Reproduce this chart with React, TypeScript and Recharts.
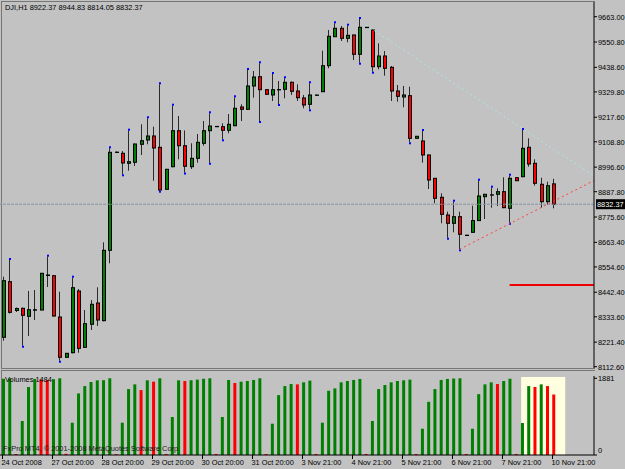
import { Bar, Cell, ComposedChart, ReferenceArea, ReferenceLine, XAxis, YAxis } from "recharts";

// DJI H1, 24 Oct - 10 Nov 2008
const opens = [
  8242.8, 8489.1, 8361.5, 8371.2, 8335.8, 8363.0, 8363.7, 8516.5, 8515.6, 8332.7,
  8154.2, 8174.5, 8447.9, 8198.4, 8300.4, 8394.7, 8316.3, 8628.2, 9063.0, 9057.9,
  9013.6, 9018.0, 9097.7, 9116.8, 9134.5, 9084.5, 8898.4, 8998.5, 9158.0, 9091.5,
  8998.5, 9035.7, 9102.2, 9158.0, 9176.0, 9175.7, 9159.8, 9180.1, 9263.0, 9252.8,
  9356.0, 9397.2, 9339.6, 9316.2, 9339.0, 9341.4, 9372.4, 9333.9, 9302.9, 9274.9,
  9315.0, 9330.8, 9446.0, 9574.4, 9611.6, 9567.3, 9582.0, 9496.5, 9615.0, 9604.1,
  9441.5, 9488.9, 9438.9, 9333.9, 9307.3, 9313.1, 9124.3, 9112.4, 9050.4, 8947.1,
  8863.0, 8784.6, 8747.8, 8777.0, 8694.0, 8707.9, 8759.7, 8865.6, 8873.0, 8876.3,
  8887.8, 8814.2, 8949.8, 8954.2, 9084.5, 9013.6, 8920.6, 8843.5, 8922.37,
];
const highs = [
  8511.2, 8585.2, 8374.8, 8374.8, 8447.9, 8452.3, 8528.0, 8599.8, 8519.0, 8444.8,
  8173.0, 8506.8, 8456.7, 8363.7, 8408.0, 8464.3, 8663.6, 9080.0, 9066.0, 9068.1,
  9158.0, 9101.0, 9186.4, 9212.9, 9175.7, 9363.6, 8989.0, 9268.7, 9223.1, 9159.3,
  9102.2, 9143.4, 9201.0, 9235.1, 9178.0, 9190.8, 9232.0, 9306.0, 9275.0, 9426.9,
  9422.5, 9456.6, 9342.0, 9409.2, 9378.2, 9390.1, 9376.0, 9363.5, 9316.2, 9368.0,
  9318.0, 9512.4, 9604.1, 9633.8, 9621.8, 9623.1, 9584.0, 9652.8, 9618.0, 9606.0,
  9545.2, 9511.1, 9444.6, 9360.4, 9356.0, 9352.9, 9135.0, 9156.7, 9052.0, 8948.5,
  8880.7, 8799.2, 8843.5, 8799.2, 8697.0, 8825.7, 8936.5, 8878.0, 8905.5, 8902.8,
  8951.6, 8958.6, 8951.0, 9161.1, 9124.3, 9031.3, 8949.8, 8932.1, 8944.83,
];
const lows = [
  8227.7, 8348.2, 8354.8, 8205.5, 8248.5, 8319.4, 8362.0, 8465.6, 8334.0, 8139.1,
  8152.0, 8172.0, 8174.5, 8196.0, 8275.1, 8292.8, 8314.0, 8570.6, 9059.0, 8964.9,
  8980.8, 9001.6, 9050.4, 9097.7, 8936.5, 8892.2, 8896.0, 8996.0, 9031.3, 8972.8,
  8988.3, 9016.2, 9091.5, 9016.2, 9174.0, 9119.9, 9146.5, 9178.0, 9201.0, 9250.0,
  9304.2, 9201.0, 9316.0, 9289.6, 9276.3, 9301.5, 9316.2, 9289.6, 9257.2, 9252.8,
  9313.0, 9329.0, 9434.4, 9573.0, 9555.4, 9549.6, 9471.2, 9459.2, 9613.0, 9419.4,
  9430.0, 9401.7, 9289.6, 9286.5, 9261.7, 9106.6, 9122.0, 9016.2, 8899.7, 8836.4,
  8747.8, 8684.0, 8707.9, 8632.6, 8692.0, 8706.0, 8758.0, 8766.8, 8816.9, 8824.4,
  8815.0, 8750.4, 8935.0, 8952.0, 8998.5, 8914.4, 8816.9, 8828.8, 8814.05,
];
const closes = [
  8493.5, 8353.5, 8370.4, 8340.2, 8365.0, 8365.0, 8526.3, 8518.8, 8337.1, 8154.2,
  8171.9, 8462.5, 8194.0, 8303.1, 8389.0, 8319.4, 8628.2, 9062.3, 9062.0, 9014.9,
  9020.7, 9099.1, 9113.7, 9134.5, 9081.4, 8895.3, 8987.0, 9158.0, 9091.5, 9000.4,
  9035.7, 9106.6, 9158.0, 9178.8, 9177.0, 9159.8, 9186.4, 9257.2, 9252.8, 9356.0,
  9395.9, 9339.6, 9319.3, 9339.6, 9340.0, 9372.4, 9332.5, 9304.2, 9271.9, 9316.2,
  9316.0, 9446.0, 9576.2, 9611.6, 9567.3, 9580.6, 9496.5, 9616.1, 9616.0, 9441.5,
  9488.9, 9434.4, 9333.9, 9310.4, 9316.2, 9124.3, 9133.2, 9050.4, 8939.6, 8858.5,
  8787.6, 8747.8, 8777.0, 8699.1, 8695.0, 8759.7, 8868.7, 8876.3, 8874.0, 8887.8,
  8816.9, 8947.1, 8936.5, 9080.0, 9010.5, 8925.0, 8843.5, 8914.4, 8832.37,
];
const volumes = [
  1870, 1878, 25, 833, 1667, 1865, 1850, 1840, 1860, 1881,
  30, 792, 1510, 1690, 1790, 1830, 1835, 1881, 20, 792,
  1617, 1732, 1592, 1832, 1798, 1881, 25, 932, 1831, 1815,
  1833, 1848, 1870, 1881, 25, 932, 1840, 1765, 1798, 1815,
  1840, 1881, 25, 767, 1468, 1690, 1740, 1732, 1782, 1823,
  25, 792, 1575, 1633, 1782, 1815, 1840, 1865, 25, 833,
  1617, 1716, 1782, 1815, 1832, 1848, 25, 644, 1304, 1617,
  1840, 1865, 1875, 1881, 25, 644, 1493, 1732, 1782, 1740,
  1815, 1870, 25, 784, 1690, 1667, 1732, 1690, 1484,
];
const fractalUp = [1, 7, 11, 17, 20, 23, 25, 27, 33, 37, 39, 41, 43, 45, 49, 53, 55, 57, 67, 72, 76, 78, 81, 83];
const fractalDown = [3, 9, 19, 25, 29, 33, 35, 41, 44, 49, 57, 59, 65, 71, 73, 81];

const dateLabels = [
  "24 Oct 2008", "27 Oct 20:00", "28 Oct 20:00", "29 Oct 20:00", "30 Oct 20:00", "31 Oct 20:00",
  "3 Nov 21:00", "4 Nov 21:00", "5 Nov 21:00", "6 Nov 21:00", "7 Nov 21:00", "10 Nov 21:00",
];
const priceTicks = [
  9663.0, 9550.8, 9438.6, 9329.8, 9217.6, 9108.8, 8996.6, 8887.8,
  8775.6, 8663.4, 8554.6, 8442.4, 8333.6, 8221.4, 8112.6,
];
const volumeTicks = [0, 1881];
const lastPrice = 8832.37;

// drawn objects: downtrend line, uptrend line, horizontal level, highlight box
const resistance = [{ x: 58, y: 9626 }, { x: 94.5, y: 8958 }];
const support = [{ x: 73, y: 8632.6 }, { x: 94.5, y: 8937 }];
const level = [{ x: 81, y: 8474.5 }, { x: 94.5, y: 8474.5 }];
const highlight = { x1: 82.85, x2: 89.9 };

const SLOTS = 95; // bars + chart shift
const BG = "#c2c2c2";
const GREEN = "#008000";
const RED = "#ff0000";
const FONT = '"Liberation Sans", Arial, sans-serif';
const FS = 7.4;

type Row = {
  i: number;
  o?: number;
  h?: number;
  l?: number;
  c?: number;
  up?: boolean;
  dn?: boolean;
  v?: number;
  rising?: boolean;
};

const rows: Row[] = Array.from({ length: SLOTS }, (_, i) =>
  i < opens.length
    ? {
        i,
        o: opens[i],
        h: highs[i],
        l: lows[i],
        c: closes[i],
        up: fractalUp.includes(i),
        dn: fractalDown.includes(i),
        v: volumes[i],
        rising: i === 0 || volumes[i] > volumes[i - 1],
      }
    : { i },
);

function Candle(props: any) {
  const { x, y, width, height, payload } = props;
  if (!payload || payload.h == null || !Number.isFinite(y)) return null;
  const top = Math.min(y, y + height);
  const span = Math.abs(height);
  const k = payload.h > payload.l ? span / (payload.h - payload.l) : 0;
  const c = Math.round(x + width / 2);
  const bodyTop = top + (payload.h - Math.max(payload.o, payload.c)) * k;
  const bodyBot = top + (payload.h - Math.min(payload.o, payload.c)) * k;
  const bull = payload.c >= payload.o;
  return (
    <g>
      <line x1={c + 0.5} x2={c + 0.5} y1={top} y2={top + span} stroke="#2a2a2a" strokeWidth={1} />
      <rect
        x={c - 0.5}
        y={bodyTop}
        width={3}
        height={Math.max(bodyBot - bodyTop, 0.3)}
        fill={bull ? GREEN : RED}
        stroke="#000"
        strokeWidth={1}
      />
      {payload.up ? <rect x={c} y={top - 2} width={2} height={2} fill="#0000ff" /> : null}
      {payload.dn ? <rect x={c} y={top + span} width={2} height={2} fill="#0000ff" /> : null}
    </g>
  );
}

function PriceTick({ x, y, payload }: any) {
  return (
    <text x={x} y={y + 3} fontSize={FS} fontFamily={FONT} fill="#000">
      {Number(payload.value).toFixed(2)}
    </text>
  );
}

function VolumeTick({ x, y, payload }: any) {
  return (
    <text x={x} y={payload.value === 0 ? y - 2 : y + 3} fontSize={FS} fontFamily={FONT} fill="#000">
      {payload.value}
    </text>
  );
}

function DateTick({ x, y, payload }: any) {
  const label = dateLabels[Math.round(payload.value / 8)];
  if (!label) return null;
  const tx = Math.round(x - 1.5) + 0.5;
  return (
    <g>
      <line x1={tx} x2={tx} y1={y - 4} y2={y} stroke="#000" />
      <text x={tx - 1} y={y + 6} fontSize={FS} fontFamily={FONT} fill="#000">
        {label}
      </text>
    </g>
  );
}

function LastPriceTag({ viewBox }: any) {
  if (!viewBox) return null;
  const x = viewBox.x + viewBox.width + 2;
  const y = viewBox.y;
  return (
    <g>
      <rect x={x} y={y - 5} width={29} height={10} fill="#000" />
      <text x={x + 1} y={y + 3} fontSize={FS} fontFamily={FONT} fill="#fff">
        {lastPrice.toFixed(2)}
      </text>
    </g>
  );
}

const text = (left: number, top: number, s: string, color = "#000") => (
  <div
    style={{
      position: "absolute",
      left,
      top,
      fontSize: FS,
      lineHeight: "8px",
      fontFamily: FONT,
      color,
      whiteSpace: "nowrap",
    }}
  >
    {s}
  </div>
);

export default function App() {
  const last = opens.length - 1;
  return (
    <div
      style={{
        position: "absolute",
        left: 0,
        top: 0,
        width: 625,
        height: 469,
        background: BG,
        overflow: "hidden",
      }}
    >
      <div
        style={{
          position: "absolute",
          left: 1,
          top: 1,
          width: 593,
          height: 366,
          borderLeft: "1px solid #767676",
          borderTop: "1px solid #767676",
          borderBottom: "1px solid #767676",
        }}
      />
      <div
        style={{
          position: "absolute",
          left: 1,
          top: 370,
          width: 593,
          height: 84,
          borderLeft: "1px solid #767676",
          borderTop: "1px solid #767676",
        }}
      />

      <div style={{ position: "absolute", left: 0, top: 370 }}>
        <ComposedChart width={625} height={99} data={rows} margin={{ top: 6, right: 0, bottom: 0, left: 0 }} barCategoryGap={0}>
          <XAxis
            dataKey="i"
            type="category"
            height={14}
            interval={7}
            tickSize={4}
            tickMargin={0}
            tickLine={false}
            stroke="#000"
            tick={<DateTick />}
          />
          <XAxis xAxisId="n" dataKey="i" type="number" domain={[-0.5, 94.5]} allowDataOverflow hide />
          <YAxis
            orientation="right"
            width={31}
            domain={[0, 1937]}
            allowDataOverflow
            ticks={volumeTicks}
            interval={0}
            tickSize={3}
            tickMargin={1}
            stroke="#000"
            tick={<VolumeTick />}
          />
          <ReferenceArea
            xAxisId="n"
            x1={highlight.x1}
            x2={highlight.x2}
            y1={0}
            y2={1912}
            fill="#ffffe0"
            fillOpacity={1}
            stroke="none"
          />
          <Bar dataKey="v" barSize={3} isAnimationActive={false}>
            {rows.map((r) => (
              <Cell key={r.i} fill={r.rising ? GREEN : RED} />
            ))}
          </Bar>
        </ComposedChart>
      </div>

      <div style={{ position: "absolute", left: 0, top: 0 }}>
        <ComposedChart width={625} height={376} data={rows} margin={{ top: 2, right: 0, bottom: 8, left: 0 }} barCategoryGap={0}>
          <XAxis dataKey="i" type="category" hide />
          <XAxis xAxisId="n" dataKey="i" type="number" domain={[-0.5, 94.5]} allowDataOverflow hide />
          <YAxis
            orientation="right"
            width={31}
            domain={[8106.8, 9728.1]}
            allowDataOverflow
            ticks={priceTicks}
            interval={0}
            tickSize={3}
            tickMargin={1}
            stroke="#000"
            tick={<PriceTick />}
          />
          <ReferenceLine y={lastPrice} stroke="#8a92a2" strokeDasharray="3 1" label={<LastPriceTag />} />
          <ReferenceLine xAxisId="n" segment={resistance} stroke="#a8e8ec" strokeDasharray="2 3" />
          <ReferenceLine xAxisId="n" segment={support} stroke="#ff4040" strokeDasharray="2 3" />
          <ReferenceLine xAxisId="n" segment={level} stroke="#ee0000" strokeWidth={2} />
          <Bar
            dataKey={(d: Row) => (d.h == null ? null : [d.l, d.h])}
            shape={<Candle />}
            isAnimationActive={false}
          />
        </ComposedChart>
      </div>

      {text(5, 4, `DJI,H1  ${opens[last].toFixed(2)} ${highs[last].toFixed(2)} ${lows[last].toFixed(2)} ${closes[last].toFixed(2)}`)}
      {text(5, 376, `Volumes ${volumes[last]}`)}
      {text(3, 445, "FxPro MT4, © 2001-2008 MetaQuotes Software Corp.", "#1a1a1a")}
    </div>
  );
}
